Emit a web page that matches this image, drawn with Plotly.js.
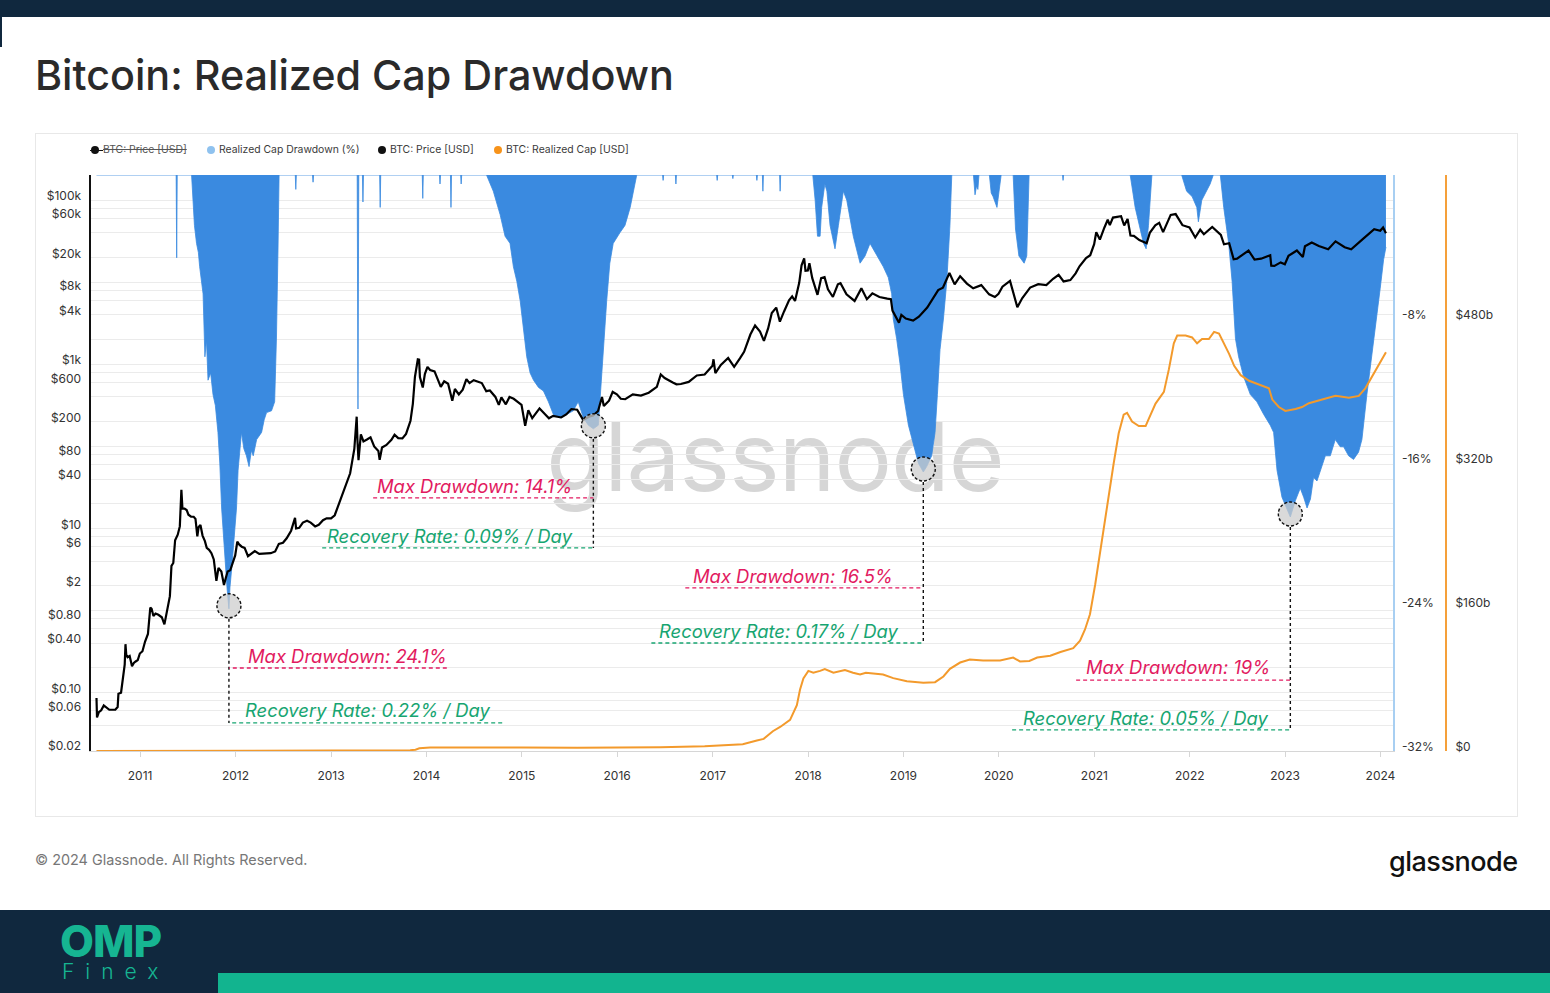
<!DOCTYPE html>
<html><head><meta charset="utf-8">
<script src="https://cdn.plot.ly/plotly-3.0.1.min.js"></script>
<style>
html,body{margin:0;padding:0;background:#fff;width:1550px;height:993px;overflow:hidden;font-family:Inter,"Noto Sans",sans-serif;}
.abs{position:absolute;}
.leg{position:absolute;top:143px;font-size:10.4px;line-height:14px;color:#3a3a3a;white-space:nowrap;}
.dot{position:absolute;top:146px;width:8px;height:8px;border-radius:50%;}
</style></head><body>
<div class="abs" style="left:0;top:0;width:1550px;height:17px;background:#10283e"></div>
<div class="abs" style="left:0;top:17px;width:2px;height:30px;background:#10283e"></div>
<div class="abs" style="left:35px;top:133px;width:1481px;height:682px;border:1px solid #e8e8e8;"></div>
<div class="abs" style="left:545px;top:398px;width:460px;text-align:center;font-size:96px;line-height:116px;color:#d6d6d6;letter-spacing:-1px;">glassnode</div>

<div class="dot" style="left:91px;background:#111"></div>
<div class="abs" style="left:90px;top:150px;width:13px;height:1px;background:#111"></div>
<div class="leg" style="left:103px;text-decoration:line-through;color:#555">BTC: Price [USD]</div>
<div class="dot" style="left:207px;background:#8fc2ef"></div>
<div class="leg" style="left:219px">Realized Cap Drawdown (%)</div>
<div class="dot" style="left:378px;background:#111"></div>
<div class="leg" style="left:390px">BTC: Price [USD]</div>
<div class="dot" style="left:494px;background:#f7931a"></div>
<div class="leg" style="left:506px">BTC: Realized Cap [USD]</div>

<div id="chart" class="abs" style="left:0;top:0;width:1550px;height:993px"></div>

<div class="abs" style="left:35px;top:851px;font-size:14.4px;color:#777">© 2024 Glassnode. All Rights Reserved.</div>
<div class="abs" style="left:1389px;top:845px;font-size:27px;font-weight:500;color:#111;letter-spacing:-0.5px">glassnode</div>

<div class="abs" style="left:0;top:910px;width:1550px;height:83px;background:#10283e"></div>
<div class="abs" style="left:218px;top:973px;width:1332px;height:20px;background:#12b48f"></div>
<div class="abs" style="left:60px;top:923px;height:36px;overflow:visible;font-size:44px;font-weight:800;color:#16b592;letter-spacing:-1px;line-height:36px">OMP</div>
<div class="abs" style="left:62px;top:962px;height:19px;overflow:visible;font-size:21px;font-weight:300;color:#16b592;letter-spacing:11px;line-height:19px">Finex</div>

<script>
// ---------- DATA ----------
const priceDates = ['2010-07-18','2010-07-20','2010-07-27','2010-08-05','2010-08-15','2010-08-25','2010-09-05','2010-09-15','2010-09-28','2010-10-07','2010-10-10','2010-10-20','2010-10-28','2010-11-03','2010-11-06','2010-11-09','2010-11-14','2010-11-22','2010-12-01','2010-12-08','2010-12-15','2010-12-23','2010-12-31',
'2011-01-10','2011-01-20','2011-01-31','2011-02-09','2011-02-14','2011-02-21','2011-03-01','2011-03-12','2011-03-25','2011-04-04','2011-04-14','2011-04-25','2011-05-01','2011-05-08','2011-05-15','2011-05-25','2011-06-02','2011-06-08','2011-06-12','2011-06-20','2011-06-28','2011-07-05','2011-07-15','2011-07-25','2011-08-01','2011-08-08','2011-08-13','2011-08-20','2011-08-28','2011-09-06','2011-09-13','2011-09-22','2011-10-01','2011-10-10','2011-10-20','2011-10-28','2011-11-08','2011-11-18','2011-11-25','2011-12-02','2011-12-12','2011-12-20','2011-12-31',
'2012-01-08','2012-01-15','2012-01-25','2012-02-05','2012-02-18','2012-03-01','2012-03-15','2012-04-01','2012-04-15','2012-05-01','2012-05-15','2012-06-01','2012-06-15','2012-07-01','2012-07-15','2012-08-01','2012-08-16','2012-08-20','2012-09-01','2012-09-15','2012-10-01','2012-10-15','2012-11-01','2012-11-15','2012-12-01','2012-12-15',
'2013-01-01','2013-01-15','2013-02-01','2013-02-15','2013-03-01','2013-03-15','2013-03-31','2013-04-09','2013-04-12','2013-04-16','2013-04-25','2013-05-05','2013-05-20','2013-06-01','2013-06-15','2013-07-01','2013-07-06','2013-07-15','2013-08-01','2013-08-20','2013-09-01','2013-09-15','2013-10-01','2013-10-15','2013-11-01','2013-11-10','2013-11-18','2013-11-29','2013-12-04','2013-12-07','2013-12-18','2013-12-26',
'2014-01-05','2014-01-15','2014-02-01','2014-02-10','2014-02-25','2014-03-10','2014-03-25','2014-04-10','2014-04-20','2014-05-05','2014-05-20','2014-06-03','2014-06-15','2014-07-01','2014-07-15','2014-08-01','2014-08-18','2014-09-01','2014-09-22','2014-10-05','2014-10-15','2014-11-01','2014-11-15','2014-12-01','2014-12-15','2014-12-31',
'2015-01-14','2015-01-26','2015-02-10','2015-03-10','2015-04-01','2015-04-15','2015-05-01','2015-06-01','2015-06-20','2015-07-10','2015-08-01','2015-08-24','2015-09-15','2015-10-01','2015-10-20','2015-11-04','2015-11-11','2015-12-01','2015-12-15','2015-12-31',
'2016-01-15','2016-02-01','2016-03-01','2016-04-01','2016-05-01','2016-06-01','2016-06-16','2016-07-01','2016-08-01','2016-08-15','2016-09-01','2016-10-01','2016-11-01','2016-12-01','2016-12-31',
'2017-01-04','2017-01-11','2017-02-01','2017-03-01','2017-03-24','2017-04-15','2017-05-01','2017-05-25','2017-06-12','2017-07-01','2017-07-16','2017-08-01','2017-08-15','2017-09-01','2017-09-15','2017-10-01','2017-10-20','2017-11-01','2017-11-12','2017-11-28','2017-12-07','2017-12-17','2017-12-22','2017-12-31',
'2018-01-06','2018-01-17','2018-02-06','2018-02-20','2018-03-05','2018-03-18','2018-04-06','2018-04-25','2018-05-05','2018-05-28','2018-06-28','2018-07-24','2018-08-14','2018-09-04','2018-10-01','2018-10-31','2018-11-14','2018-11-20','2018-12-15','2018-12-24',
'2019-01-10','2019-02-07','2019-03-01','2019-04-02','2019-05-14','2019-06-01','2019-06-26','2019-07-16','2019-08-06','2019-09-01','2019-09-25','2019-10-26','2019-11-25','2019-12-17','2019-12-31',
'2020-01-15','2020-02-13','2020-03-12','2020-03-31','2020-04-30','2020-05-31','2020-07-01','2020-07-27','2020-08-17','2020-09-05','2020-10-01','2020-10-21','2020-11-05','2020-11-30','2020-12-16','2020-12-31',
'2021-01-08','2021-01-22','2021-02-08','2021-02-21','2021-03-01','2021-03-13','2021-04-13','2021-04-25','2021-05-08','2021-05-19','2021-06-01','2021-06-22','2021-07-20','2021-08-01','2021-08-22','2021-09-06','2021-09-21','2021-10-20','2021-11-08','2021-12-04','2021-12-31',
'2022-01-22','2022-02-10','2022-02-24','2022-03-28','2022-04-30','2022-05-12','2022-06-01','2022-06-18','2022-07-01','2022-08-14','2022-09-06','2022-10-01','2022-11-05','2022-11-09','2022-11-21','2022-12-15','2022-12-31',
'2023-01-14','2023-02-15','2023-03-10','2023-03-18','2023-04-13','2023-05-10','2023-06-15','2023-07-13','2023-08-17','2023-09-11','2023-10-23','2023-11-09','2023-12-08','2023-12-31','2024-01-11','2024-01-22'];
const priceUsd = [0.086,0.05,0.058,0.061,0.07,0.066,0.062,0.062,0.062,0.067,0.097,0.10,0.17,0.22,0.39,0.29,0.27,0.28,0.21,0.23,0.24,0.25,0.30,
0.32,0.42,0.52,1.09,1.05,0.86,0.92,0.89,0.83,0.68,0.95,1.5,3.5,3.8,7.2,8.4,10.6,29.6,17.5,17.5,16.8,14.7,13.9,13.9,13.1,8.0,10.4,11.0,8.2,7.0,5.8,5.5,5.0,4.2,2.3,3.3,3.0,2.05,2.5,3.0,3.1,3.8,4.7,
6.9,6.4,6.0,5.8,4.6,4.9,5.3,4.9,4.95,5.0,5.0,5.25,6.5,6.7,7.6,9.4,13.5,10.0,10.2,11.8,12.4,11.8,10.6,11.1,12.6,13.3,
13.3,14.5,20.4,27,34.5,47,93,230,117,68,140,115,122,129,100,88,68.5,97,104,120,139,126,125,142,205,330,700,1150,1140,700,520,760,
930,850,820,690,530,620,580,360,500,430,490,660,590,640,620,590,470,480,400,320,395,325,400,380,350,320,
178,275,220,290,245,220,235,225,245,285,280,210,230,237,270,400,310,360,460,430,
380,375,430,415,450,530,750,680,600,570,575,610,730,750,960,
1150,780,980,1190,930,1180,1420,2300,2970,2500,1930,2730,4200,4900,3300,4400,6000,6700,5900,9800,16000,19500,13800,13900,
17000,11200,7000,11200,11500,8200,6600,9400,9700,7100,5900,8400,6200,7300,6600,6300,6200,4500,3200,4000,
3600,3400,3800,4900,8000,8550,12900,9400,11800,9600,8400,9200,7100,6600,7200,
8800,10350,4950,6400,8600,9450,9230,11000,12300,10200,10600,12800,15600,19700,21300,29000,
40600,33000,46000,57500,49600,61200,63500,49000,58800,37000,36700,32500,29800,39900,49300,52700,40700,65900,67500,49400,46300,
35000,43500,38300,47100,37700,28900,29800,19000,19300,24300,18800,19300,21300,15900,15800,17400,16550,
20900,24300,20200,27400,30400,27600,25100,31400,26600,25100,33000,36700,44200,42300,46300,39500];

const capDates = ['2010-07-18','2011-06-15','2012-01-01','2012-12-31','2013-04-15','2013-10-31','2013-11-20','2013-12-05','2014-01-15','2014-06-01','2015-01-01','2015-08-01','2016-01-01','2016-06-15','2016-12-01','2017-02-01','2017-04-26','2017-06-19','2017-07-15','2017-08-19','2017-09-16','2017-10-24','2017-11-19','2017-12-01','2017-12-14',
'2018-01-02','2018-01-21','2018-02-16','2018-03-06','2018-04-08','2018-05-22','2018-06-22','2018-07-19','2018-08-10','2018-10-15','2018-11-23','2019-01-14','2019-03-18','2019-05-02','2019-06-03','2019-06-28','2019-08-06','2019-09-12','2019-11-02','2020-01-06','2020-02-25','2020-03-22','2020-04-27','2020-05-27','2020-07-16','2020-08-24','2020-10-12','2020-11-07','2020-11-26','2020-12-15',
'2021-01-04','2021-01-17','2021-02-05','2021-02-24','2021-03-16','2021-04-04','2021-04-23','2021-05-06','2021-05-25','2021-06-20','2021-07-16','2021-07-28','2021-08-23','2021-09-24','2021-10-13','2021-11-01','2021-11-14','2021-12-16','2022-01-10','2022-01-29','2022-02-17','2022-03-15','2022-04-04','2022-04-23','2022-05-12','2022-06-01','2022-06-20','2022-07-15','2022-08-16','2022-09-23','2022-10-31','2022-11-13','2022-12-08',
'2023-01-02','2023-02-10','2023-03-07','2023-04-02','2023-05-23','2023-07-13','2023-09-02','2023-10-10','2023-11-04','2023-11-29','2023-12-25','2024-01-22'];
const capBn = [0.01,0.06,0.05,0.12,0.4,0.8,1.5,3.0,3.8,4.2,4.0,3.6,3.8,4.3,5.2,6.5,7.5,11.6,13.5,22,26.7,34.6,51,68,80.7,
89,87,89,91,87,90,87,85,87,85,81,77.4,75.7,76.5,82.8,91.3,98.3,101.6,100.5,100.5,103.8,99.5,100,103.8,105.8,110,114.2,122.5,135,152,
185,210,248,285,320,353,373.6,375.8,366,361,361,369,386,399,424,453,461.6,461.6,459.5,453,457.7,457.7,465.7,463.7,453,441,428,417.6,411.4,407.5,403,390.5,382.2,
377.9,380,382.2,386.4,390.5,394.6,392.6,394.6,403,415.5,430,443];

const ddDates = ['2010-07-18','2011-05-19','2011-05-21','2011-05-23','2011-07-17','2011-07-23','2011-07-28','2011-08-05','2011-08-12','2011-08-17','2011-08-24','2011-08-30','2011-09-06','2011-09-12','2011-09-18','2011-09-28','2011-10-07','2011-10-16','2011-10-26','2011-11-02','2011-11-09','2011-11-16','2011-11-22','2011-11-30','2011-12-07','2011-12-11','2011-12-18','2011-12-24','2011-12-30',
'2012-01-05','2012-01-11','2012-01-18','2012-01-24','2012-02-02','2012-02-12','2012-02-22','2012-03-02','2012-03-09','2012-03-22','2012-04-10','2012-04-20','2012-04-29','2012-05-18','2012-05-30','2012-06-06','2012-06-12','2012-06-16','2012-08-17','2012-08-19','2012-08-21','2012-10-22','2012-10-24','2012-10-26',
'2013-04-11','2013-04-14','2013-04-17','2013-05-01','2013-05-03','2013-05-05','2013-07-06','2013-07-08','2013-07-10','2013-12-16','2013-12-18','2013-12-20','2014-02-20','2014-02-22','2014-02-24','2014-04-03','2014-04-05','2014-04-07','2014-05-12','2014-05-14','2014-05-16',
'2014-08-19','2014-09-14','2014-09-25','2014-10-10','2014-10-29','2014-11-17','2014-11-30','2014-12-13','2014-12-26','2015-01-07','2015-01-20','2015-02-02','2015-02-15','2015-03-06','2015-03-25','2015-04-13','2015-05-02','2015-05-28','2015-06-22','2015-07-17','2015-08-05','2015-08-25','2015-09-13','2015-10-02','2015-10-21','2015-10-27','2015-11-09','2015-11-22','2015-12-04','2015-12-17','2016-01-12','2016-01-31','2016-02-20','2016-03-10','2016-03-16',
'2016-06-23','2016-06-25','2016-06-27','2016-08-11','2016-08-13','2016-08-15','2017-01-16','2017-01-18','2017-01-20','2017-03-17','2017-03-19','2017-03-21','2017-06-17','2017-06-19','2017-06-21','2017-07-10','2017-07-12','2017-07-14','2017-09-14','2017-09-16','2017-09-18',
'2018-01-19','2018-01-28','2018-02-06','2018-02-16','2018-02-22','2018-03-06','2018-03-14','2018-03-26','2018-04-14','2018-04-27','2018-05-16','2018-05-29','2018-06-23','2018-07-19','2018-08-07','2018-08-26','2018-09-21','2018-10-16','2018-11-04','2018-11-17','2018-11-23','2018-12-06','2018-12-19','2019-01-01','2019-01-20','2019-02-08','2019-02-27','2019-03-18','2019-03-31','2019-04-19','2019-05-02','2019-05-11','2019-05-21','2019-06-03','2019-06-16','2019-06-28','2019-07-05',
'2019-09-26','2019-10-02','2019-10-08','2019-10-13','2019-10-17','2019-11-26','2019-12-03','2019-12-10','2019-12-25','2020-01-06','2020-01-10','2020-02-25','2020-03-05','2020-03-18','2020-04-07','2020-04-17','2020-04-22','2020-04-26','2020-09-01','2020-09-03','2020-09-05',
'2021-05-18','2021-06-06','2021-06-25','2021-07-08','2021-07-18','2021-07-27','2021-08-09','2021-12-01','2021-12-20','2022-01-10','2022-01-28','2022-02-03','2022-02-16','2022-03-07','2022-03-20','2022-04-01',
'2022-04-28','2022-05-11','2022-05-30','2022-06-12','2022-06-25','2022-07-07','2022-07-26','2022-08-21','2022-09-15','2022-10-11','2022-11-05','2022-11-18','2022-12-01','2022-12-20','2023-01-08','2023-01-21','2023-02-09','2023-02-28','2023-03-13','2023-03-26','2023-04-08','2023-04-20','2023-05-03','2023-05-16','2023-06-04','2023-06-23','2023-07-12','2023-07-31','2023-08-13','2023-09-01','2023-09-20','2023-10-09','2023-10-22','2023-11-10','2023-11-29','2023-12-18','2023-12-31','2024-01-13','2024-01-22'];
const ddPct = [0,0,-4.6,0,0,-1.8,-2.8,-3.8,-4.3,-5.1,-5.9,-6.6,-10.1,-9.2,-11.4,-11.0,-12.2,-12.8,-14.3,-16.0,-18.5,-20.2,-21.6,-23.0,-24.1,-22.9,-21.8,-20.6,-19.6,
-18.5,-16.4,-15.0,-14.3,-15.2,-15.6,-16.2,-15.3,-15.6,-14.7,-14.3,-13.6,-13.2,-13.1,-12.6,-9.0,-4.0,0,0,-0.8,0,0,-0.4,0,
0,-13.0,0,0,-1.5,0,0,-1.8,0,0,-1.3,0,0,-0.5,0,0,-1.8,0,0,-0.5,0,
0,-0.9,-1.5,-2.2,-3.4,-3.8,-5.1,-5.9,-7.0,-8.5,-10.1,-11.0,-11.4,-11.8,-12.0,-12.6,-13.3,-13.5,-13.3,-13.1,-12.6,-13.5,-13.9,-14.1,-13.9,-12.5,-9.7,-7.0,-4.9,-3.8,-3.2,-2.8,-1.8,-0.3,0,
0,-0.3,0,0,-0.5,0,0,-0.3,0,0,-0.2,0,0,-0.3,0,0,-0.9,0,0,-0.9,0,
0,-1.4,-3.4,-3.4,-1.8,-0.5,-0.9,-2.8,-4.1,-2.8,-0.9,-1.4,-3.4,-4.9,-4.5,-3.8,-4.5,-5.1,-5.7,-6.6,-8.0,-9.1,-10.5,-12.2,-13.9,-14.9,-16.0,-16.5,-16.2,-15.6,-14.3,-12.2,-9.7,-8.0,-5.9,-2.8,0,
0,-1.1,-0.6,-0.8,0,0,-1.0,-1.2,-1.8,-0.5,0,0,-3.0,-4.5,-4.9,-4.5,-2.0,0,0,-0.3,0,
0,-1.8,-3.0,-3.8,-4.1,-2.8,0,0,-0.9,-1.2,-1.8,-2.6,-1.4,-0.9,-0.5,0,
0,-1.8,-3.8,-5.9,-9.1,-10.1,-11.2,-12.2,-12.6,-13.3,-13.9,-14.3,-16.4,-17.9,-18.5,-19.0,-18.1,-17.4,-17.9,-18.5,-18.0,-16.8,-17.0,-16.4,-15.6,-15.6,-14.7,-15.1,-15.1,-15.6,-15.8,-15.4,-14.7,-12.2,-10.1,-8.0,-6.3,-4.7,-4.0];

const priceLabelVals = [0.02,0.06,0.1,0.4,0.8,2,6,10,40,80,200,600,1000,4000,8000,20000,60000,100000];
const priceLabelText = ['$0.02','$0.06','$0.10','$0.40','$0.80','$2','$6','$10','$40','$80','$200','$600','$1k','$4k','$8k','$20k','$60k','$100k'];
const ddTickVals = [-32,-24,-16,-8];
const ddTickText = ['-32%','-24%','-16%','-8%'];
const capTickVals = [0,160,320,480];
const capTickText = ['$0','$160b','$320b','$480b'];

const maxLabels = ['Max Drawdown: 24.1%','Max Drawdown: 14.1%','Max Drawdown: 16.5%','Max Drawdown: 19%'];
const rateLabels = ['Recovery Rate: 0.22% / Day','Recovery Rate: 0.09% / Day','Recovery Rate: 0.17% / Day','Recovery Rate: 0.05% / Day'];
const episodes = [['2011-07-01','2012-08-01'],['2014-08-01','2016-04-01'],['2018-01-01','2019-08-01'],['2022-04-01','2024-02-01']];

// ---------- LAYOUT HELPERS (annotation placement) ----------
const maxTextPos = [['2012-02-10',-26.72],['2013-06-18',-17.28],['2016-10-11',-22.28],['2020-11-23',-27.33]];
const rateTextPos = [['2012-01-30',-29.72],['2012-12-09',-20.06],['2016-06-03',-25.33],['2020-03-27',-30.17]];
const maxLineEnd = [['2014-03-20',-27.39],['2013-06-11',-17.94],['2016-09-18',-22.94],['2020-10-23',-28.06]];
const rateLineEnd = [['2014-10-18',-30.44],['2012-11-28',-20.72],['2016-05-11',-26.0],['2020-02-21',-30.83]];

const PINK = '#e21a60', GREEN = '#17a571';
const shapes = [], annotations = [];
episodes.forEach((ep, i) => {
  let mi = -1;
  for (let k = 0; k < ddDates.length; k++) {
    if (ddDates[k] >= ep[0] && ddDates[k] <= ep[1] && (mi < 0 || ddPct[k] < ddPct[mi])) mi = k;
  }
  const md = ddDates[mi], mv = ddPct[mi];
  shapes.push({type:'line', xref:'x', yref:'y', x0:md, x1:md, y0:mv - 0.55, y1:rateLineEnd[i][1], line:{color:'#111', width:1.4, dash:'3px,3px'}});
  shapes.push({type:'line', xref:'x', yref:'y', x0:maxLineEnd[i][0], x1:md, y0:maxLineEnd[i][1], y1:maxLineEnd[i][1], line:{color:PINK, width:1.3, dash:'4px,3px'}});
  shapes.push({type:'line', xref:'x', yref:'y', x0:rateLineEnd[i][0], x1:md, y0:rateLineEnd[i][1], y1:rateLineEnd[i][1], line:{color:GREEN, width:1.3, dash:'4px,3px'}});
  shapes.push({type:'circle', xref:'x', yref:'y', xsizemode:'pixel', ysizemode:'pixel', xanchor:md, yanchor:mv,
    x0:-12, x1:12, y0:-9, y1:15, fillcolor:'rgba(205,205,205,0.75)', line:{color:'#111', width:1.4, dash:'3px,2px'}});
  annotations.push({xref:'x', yref:'y', x:maxTextPos[i][0], y:maxTextPos[i][1], xanchor:'left', yanchor:'middle', showarrow:false,
    text:maxLabels[i], font:{family:'Inter, sans-serif', size:18.4, color:PINK, style:'italic'}});
  annotations.push({xref:'x', yref:'y', x:rateTextPos[i][0], y:rateTextPos[i][1], xanchor:'left', yanchor:'middle', showarrow:false,
    text:rateLabels[i], font:{family:'Inter, sans-serif', size:18.4, color:GREEN, style:'italic'}});
});

// price gridlines at 1,2,4,6,8 x 10^n
const gridVals = [], gridText = [];
[-2,-1,0,1,2,3,4,5].forEach(e => [1,2,4,6,8].forEach(m => {
  const v = +(m * Math.pow(10, e)).toPrecision(3);
  if (v >= 0.02 && v <= 200000) {
    gridVals.push(v);
    const li = priceLabelVals.findIndex(p => Math.abs(p - v) / v < 1e-6);
    gridText.push(li >= 0 ? priceLabelText[li] : '');
  }
}));

const traces = [
  {x:ddDates, y:ddPct, xaxis:'x', yaxis:'y', type:'scatter', mode:'lines', fill:'tozeroy',
   fillcolor:'#3a8ae0', line:{color:'#3a8ae0', width:0.8}, hoverinfo:'skip', name:'Realized Cap Drawdown (%)'},
  {x:priceDates, y:priceUsd, xaxis:'x', yaxis:'y2', type:'scatter', mode:'lines',
   line:{color:'#000', width:2.2}, hoverinfo:'skip', name:'BTC: Price [USD]'},
  {x:capDates, y:capBn, xaxis:'x', yaxis:'y3', type:'scatter', mode:'lines',
   line:{color:'#f39a2c', width:2}, hoverinfo:'skip', name:'BTC: Realized Cap [USD]'}
];

const tf = {family:'Inter, sans-serif', size:12, color:'#333'};
const layout = {
  width:1550, height:993,
  margin:{l:91, r:104, t:175, b:242, pad:0},
  paper_bgcolor:'rgba(0,0,0,0)', plot_bgcolor:'rgba(0,0,0,0)',
  showlegend:false,
  title:{text:'Bitcoin: Realized Cap Drawdown', xref:'container', yref:'container', x:35/1550, xanchor:'left', y:1-76/993, yanchor:'middle',
    font:{family:'Inter, sans-serif', size:41.3, color:'#2a2a2a', weight:500}},
  xaxis:{type:'date', domain:[0, 1302/1355], range:['2010-06-27','2024-02-18'], showgrid:false, zeroline:false,
    showline:true, linecolor:'#d6d6d6', linewidth:1, ticks:'outside', ticklen:5, tickcolor:'#d6d6d6',
    tick0:'2011-01-01', dtick:'M12', tickformat:'%Y', tickfont:tf, ticklabelstandoff:9},
  yaxis:{side:'right', anchor:'x', range:[-32,0], tickvals:ddTickVals, ticktext:ddTickText, showgrid:false, zeroline:false,
    showline:true, linecolor:'#a8cff2', linewidth:1.5, ticks:'', tickfont:tf, ticklabelstandoff:5, ticklabelshift:-4},
  yaxis2:{overlaying:'y', side:'left', anchor:'x', type:'log', range:[-1.71,5.305], tickvals:gridVals, ticktext:gridText,
    showgrid:true, gridcolor:'#ebebeb', gridwidth:1, zeroline:false, showline:true, linecolor:'#111', linewidth:2.5,
    ticks:'', tickfont:tf, ticklabelstandoff:5, ticklabelshift:-4},
  yaxis3:{overlaying:'y', side:'right', anchor:'free', position:1, range:[0,640], tickvals:capTickVals, ticktext:capTickText,
    showgrid:false, zeroline:false, showline:true, linecolor:'#f5a03a', linewidth:2, ticks:'', tickfont:tf, ticklabelstandoff:6, ticklabelshift:-4},
  shapes:shapes, annotations:annotations
};
Plotly.newPlot('chart', traces, layout, {displayModeBar:false, staticPlot:true});
</script>
</body></html>
